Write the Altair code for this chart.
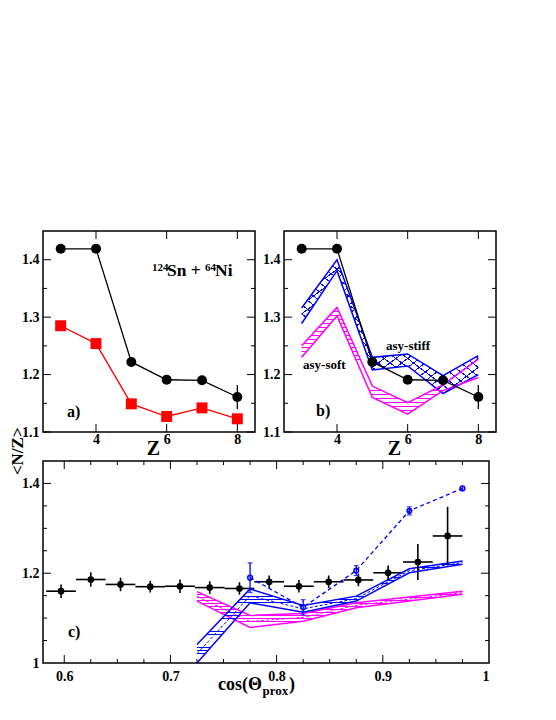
import altair as alt
import pandas as pd

FONT = "Liberation Serif"
BLUE = "#0000ff"
MAG = "#ff00ff"
RED = "#ff0000"

# ---------------- panels a) and b): <N/Z> versus Z ----------------
Z = [3, 4, 5, 6, 7, 8]
exp_nz = [1.419, 1.419, 1.222, 1.191, 1.190, 1.161]
exp_err = [0.003, 0.003, 0.004, 0.004, 0.005, 0.021]
red_nz = [1.285, 1.254, 1.149, 1.127, 1.142, 1.123]
stiff_hi = [1.316, 1.400, 1.230, 1.236, 1.198, 1.233]
stiff_lo = [1.289, 1.381, 1.208, 1.215, 1.167, 1.200]
soft_hi = [1.250, 1.317, 1.180, 1.151, 1.182, 1.227]
soft_lo = [1.230, 1.302, 1.160, 1.131, 1.172, 1.195]

# ---------------- panel c): <N/Z> versus cos(theta_prox) ----------------
cos_x = [0.597, 0.625, 0.653, 0.681, 0.709, 0.737, 0.765,
         0.793, 0.821, 0.849, 0.877, 0.905, 0.933, 0.961]
cos_nz = [1.160, 1.186, 1.175, 1.170, 1.171, 1.168, 1.166,
          1.181, 1.171, 1.181, 1.185, 1.201, 1.225, 1.283]
cos_err = [0.015, 0.016, 0.015, 0.013, 0.015, 0.014, 0.014,
           0.014, 0.014, 0.014, 0.014, 0.016, 0.040, 0.065]
cos_halfbin = 0.014
sim_x = [0.775, 0.825, 0.875, 0.925, 0.975]
sim_nz = [1.190, 1.124, 1.206, 1.339, 1.389]
sim_err = [0.033, 0.017, 0.011, 0.009, 0.004]
band_x = [0.725, 0.775, 0.825, 0.875, 0.925, 0.975]
c_stiff_hi = [1.041, 1.165, 1.128, 1.149, 1.210, 1.227]
c_stiff_lo = [1.000, 1.134, 1.113, 1.138, 1.201, 1.220]
c_soft_hi = [1.159, 1.106, 1.110, 1.134, 1.147, 1.160]
c_soft_lo = [1.138, 1.079, 1.093, 1.123, 1.138, 1.153]

# ---------------- axis ticks / labels ----------------
ab_x_major = [4, 6, 8]
ab_y_major = [1.1, 1.2, 1.3, 1.4]
ab_y_minor = [1.15, 1.25, 1.35]
c_x_labels = [0.6, 0.7, 0.8, 0.9, 1.0]
c_x_major = [0.6, 0.7, 0.8, 0.9]
c_x_minor = [0.625, 0.65, 0.675, 0.725, 0.75, 0.775, 0.825, 0.85, 0.875,
             0.925, 0.95, 0.975]
c_y_labels = [1.0, 1.2, 1.4]
c_y_major = [1.2, 1.4]
c_y_minor = [1.05, 1.1, 1.15, 1.25, 1.3, 1.35]

A_W, A_H = 212, 201
C_W, C_H = 446, 202

XA = alt.Scale(domain=[2.5, 8.5], nice=False, zero=False)
YA = alt.Scale(domain=[1.1, 1.45], nice=False, zero=False)
XC = alt.Scale(domain=[0.58, 1.0], nice=False, zero=False)
YC = alt.Scale(domain=[1.0, 1.45], nice=False, zero=False)

LBL = dict(labelFont=FONT, labelFontSize=14, labelFontWeight="bold", labelColor="black")
AB_XAX = alt.Axis(values=ab_x_major, title="Z", labelPadding=0, titleFontSize=20,
                  titleFont=FONT, titleFontWeight="bold",
                  titleX=110, titleY=22, titleBaseline="alphabetic", titleAlign="center", **LBL)
AB_YAX = alt.Axis(values=ab_y_major, title=None, format=".1f", labelPadding=4, **LBL)
C_XAX = alt.Axis(values=c_x_labels, title=None, labelPadding=6,
                 labelExpr="datum.value == 1 ? '1' : format(datum.value, '.1f')", **LBL)
C_YAX = alt.Axis(values=c_y_labels, title=None, labelPadding=4,
                 labelExpr="datum.value == 1 ? '1' : format(datum.value, '.1f')", **LBL)


def hatch(color, n, vec, frac=0.25):
    clear = "rgba(255,255,255,0)"
    stops = []
    for i in range(n):
        a = round(i / n, 5)
        b = round((i + frac) / n, 5)
        c = round((i + 1) / n, 5)
        stops += [{"offset": a, "color": color}, {"offset": b, "color": color},
                  {"offset": b, "color": clear}, {"offset": c, "color": clear}]
    x1, y1, x2, y2 = vec
    return {"gradient": "linear", "x1": x1, "y1": y1, "x2": x2, "y2": y2,
            "stops": stops}


class Ax:
    def __init__(self, xs, ys, xax, yax):
        self.xs, self.ys, self.xax, self.yax = xs, ys, xax, yax

    def X(self, f):
        return alt.X(f, scale=self.xs, axis=self.xax)

    def Y(self, f):
        return alt.Y(f, scale=self.ys, axis=self.yax)


def tick_layers(A, xmaj, xmin, ymaj, ymin, W, H, L=8, l=4):
    out = []
    for vals, size in ((ymaj, L), (ymin, l)):
        base = alt.Chart(pd.DataFrame({"v": vals})).mark_rule(color="black", strokeWidth=1)
        out.append(base.encode(y=A.Y("v:Q"), x=alt.value(0), x2=alt.value(size)))
        out.append(base.encode(y=A.Y("v:Q"), x=alt.value(W), x2=alt.value(W - size)))
    for vals, size in ((xmaj, L), (xmin, l)):
        if not vals:
            continue
        base = alt.Chart(pd.DataFrame({"v": vals})).mark_rule(color="black", strokeWidth=1)
        out.append(base.encode(x=A.X("v:Q"), y=alt.value(0), y2=alt.value(size)))
        out.append(base.encode(x=A.X("v:Q"), y=alt.value(H), y2=alt.value(H - size)))
    return out


def label(text, x, y, size=16, align="left"):
    return alt.Chart(pd.DataFrame({"t": [text]})).mark_text(
        font=FONT, fontWeight="bold", fontSize=size, align=align,
        baseline="alphabetic", color="black").encode(
        text="t:N", x=alt.value(x), y=alt.value(y))


def band(df, A, xfield, hi, lo, color, fills):
    out = []
    for f in fills:
        out.append(alt.Chart(df).mark_area(fill=f, interpolate="linear").encode(
            x=A.X(xfield), y=A.Y(hi), y2=lo))
    for fld in (hi, lo):
        out.append(alt.Chart(df).mark_line(color=color, strokeWidth=1.5).encode(
            x=A.X(xfield), y=A.Y(fld)))
    return out


AB = Ax(XA, YA, AB_XAX, AB_YAX)
CC = Ax(XC, YC, C_XAX, C_YAX)

exp_df = pd.DataFrame({"Z": Z, "nz": exp_nz,
                       "lo": [v - e for v, e in zip(exp_nz, exp_err)],
                       "hi": [v + e for v, e in zip(exp_nz, exp_err)]})
red_df = pd.DataFrame({"Z": Z, "nz": red_nz})
bandb = pd.DataFrame({"Z": Z, "s_hi": stiff_hi, "s_lo": stiff_lo,
                      "m_hi": soft_hi, "m_lo": soft_lo})


def exp_layers(df):
    line = alt.Chart(df).mark_line(color="black", strokeWidth=1.3).encode(
        x=AB.X("Z:Q"), y=AB.Y("nz:Q"))
    err = alt.Chart(df).mark_rule(color="black", strokeWidth=1.3).encode(
        x=AB.X("Z:Q"), y=AB.Y("lo:Q"), y2="hi:Q")
    pts = alt.Chart(df).mark_circle(color="black", size=100, opacity=1).encode(
        x=AB.X("Z:Q"), y=AB.Y("nz:Q"))
    return [line, err, pts]


# ----- panel a
pa_layers = exp_layers(exp_df) + [
    alt.Chart(red_df).mark_line(color=RED, strokeWidth=1.3).encode(
        x=AB.X("Z:Q"), y=AB.Y("nz:Q")),
    alt.Chart(red_df).mark_square(color=RED, size=120, opacity=1).encode(
        x=AB.X("Z:Q"), y=AB.Y("nz:Q")),
    label("124", 109, 40, 11),
    label("Sn + ", 124, 45, 17.5),
    label("64", 162, 40, 11),
    label("Ni", 172, 45, 17.5),
    label("a)", 24, 186, 16),
] + tick_layers(AB, ab_x_major, [], ab_y_major, ab_y_minor, A_W, A_H)
panel_a = alt.layer(*pa_layers).properties(width=A_W, height=A_H)

# ----- panel b
pb_layers = (
    band(bandb, AB, "Z:Q", "s_hi:Q", "s_lo:Q", BLUE,
         [hatch(BLUE, 30, (0, 0, 1, 1), 0.14), hatch(BLUE, 30, (1, 0, 0, 1), 0.14)])
    + band(bandb, AB, "Z:Q", "m_hi:Q", "m_lo:Q", MAG, [hatch(MAG, 27, (0, 0, 0, 1), 0.18)])
    + exp_layers(exp_df)
    + [label("asy-stiff", 102, 119, 13), label("asy-soft", 19, 138, 13), label("b)", 32, 185, 16)]
    + tick_layers(AB, ab_x_major, [], ab_y_major, ab_y_minor, A_W, A_H)
)
panel_b = alt.layer(*pb_layers).properties(width=A_W, height=A_H)

# ----- panel c
cdf = pd.DataFrame({"x": cos_x, "nz": cos_nz,
                    "xl": [v - cos_halfbin for v in cos_x], "xh": [v + cos_halfbin for v in cos_x],
                    "lo": [v - e for v, e in zip(cos_nz, cos_err)],
                    "hi": [v + e for v, e in zip(cos_nz, cos_err)]})
sdf = pd.DataFrame({"x": sim_x, "nz": sim_nz,
                    "lo": [v - e for v, e in zip(sim_nz, sim_err)],
                    "hi": [v + e for v, e in zip(sim_nz, sim_err)]})
bandc = pd.DataFrame({"x": band_x, "s_hi": c_stiff_hi, "s_lo": c_stiff_lo,
                      "s_mid": [(a + b) / 2 for a, b in zip(c_stiff_hi, c_stiff_lo)],
                      "m_hi": c_soft_hi, "m_lo": c_soft_lo,
                      "m_mid": [(a + b) / 2 for a, b in zip(c_soft_hi, c_soft_lo)]})

pc_layers = (
    [alt.Chart(cdf).mark_rule(color="black", strokeWidth=1.6).encode(
        x=CC.X("xl:Q"), x2="xh:Q", y=CC.Y("nz:Q"))]
    + band(bandc, CC, "x:Q", "m_hi:Q", "m_lo:Q", MAG, [hatch(MAG, 12, (0, 0, 0, 1), 0.18)])
    + [alt.Chart(bandc).mark_line(color=MAG, strokeWidth=1, strokeDash=[3, 2]).encode(
        x=CC.X("x:Q"), y=CC.Y("m_mid:Q"))]
    + band(bandc, CC, "x:Q", "s_hi:Q", "s_lo:Q", BLUE, [hatch(BLUE, 32, (0, 0, 0, 1), 0.15)])
    + [alt.Chart(bandc).mark_line(color=BLUE, strokeWidth=1, strokeDash=[3, 2]).encode(
        x=CC.X("x:Q"), y=CC.Y("s_mid:Q"))]
    + [alt.Chart(cdf).mark_rule(color="black", strokeWidth=1.6).encode(
        x=CC.X("x:Q"), y=CC.Y("lo:Q"), y2="hi:Q"),
       alt.Chart(cdf).mark_circle(color="black", size=45, opacity=1).encode(
        x=CC.X("x:Q"), y=CC.Y("nz:Q"))]
    + [alt.Chart(sdf).mark_line(color=BLUE, strokeWidth=1.3, strokeDash=[4, 3]).encode(
        x=CC.X("x:Q"), y=CC.Y("nz:Q")),
       alt.Chart(sdf).mark_rule(color=BLUE, strokeWidth=1.3).encode(
        x=CC.X("x:Q"), y=CC.Y("lo:Q"), y2="hi:Q"),
       alt.Chart(sdf).mark_tick(color=BLUE, orient="horizontal", size=5, thickness=1.3).encode(
        x=CC.X("x:Q"), y=CC.Y("hi:Q")),
       alt.Chart(sdf).mark_tick(color=BLUE, orient="horizontal", size=5, thickness=1.3).encode(
        x=CC.X("x:Q"), y=CC.Y("lo:Q")),
       alt.Chart(sdf).mark_point(color=BLUE, size=22, filled=False, strokeWidth=1.5, opacity=1).encode(
        x=CC.X("x:Q"), y=CC.Y("nz:Q"))]
    + [label("c)", 25, 176, 16),
       label("cos(\u0398", 219, 229, 18, "right"),
       label("prox", 219.5, 234, 13),
       label(")", 246, 229, 18)]
    + tick_layers(CC, c_x_major, c_x_minor, c_y_major, c_y_minor, C_W, C_H)
)
panel_c = alt.layer(*pc_layers).properties(width=C_W, height=C_H)

row = alt.hconcat(panel_a, panel_b, spacing=4)
chart = alt.vconcat(
    row, panel_c, spacing=0,
    title=alt.TitleParams(text="<N/Z>", orient="left", anchor="middle", font=FONT,
                          fontSize=17, fontWeight="bold", color="black", offset=-6, dx=13),
).properties(
    padding={"left": 0, "top": 221, "right": 5, "bottom": 5}
).configure_view(
    stroke="black", strokeWidth=1.5
).configure_axis(
    ticks=False, domain=False, grid=False
)

chart.save("out.html", embed_options={"renderer": "svg", "actions": False})
